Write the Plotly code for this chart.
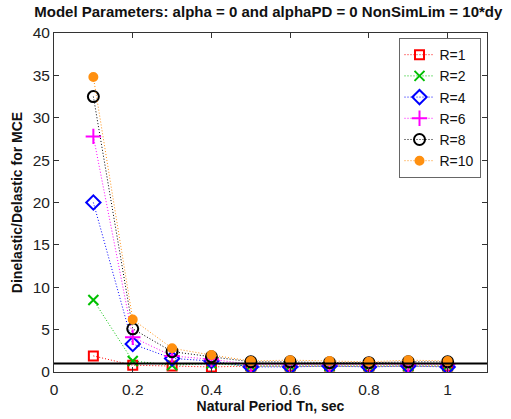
import plotly.graph_objects as go

periods = [0.1, 0.2, 0.3, 0.4, 0.5, 0.6, 0.7, 0.8, 0.9, 1.0]
r1 = [1.9, 0.8, 0.7, 0.6, 0.7, 0.7, 0.7, 0.7, 0.7, 0.7]
r2 = [8.5, 1.3, 0.8, 1.0, 0.7, 0.7, 0.7, 0.7, 0.7, 0.7]
r4 = [20.0, 3.3, 1.6, 1.3, 0.6, 0.6, 0.7, 0.6, 0.7, 0.6]
r6 = [27.8, 4.1, 1.9, 1.5, 0.9, 0.9, 0.9, 0.9, 0.9, 0.9]
r8 = [32.5, 5.1, 2.4, 1.8, 1.2, 1.2, 1.1, 1.1, 1.2, 1.2]
r10 = [34.8, 6.2, 2.8, 2.0, 1.3, 1.4, 1.3, 1.2, 1.4, 1.3]
names = ["R=1", "R=2", "R=4", "R=6", "R=8", "R=10"]
colors = ["#ff0000", "#00c000", "#0000ff", "#ff00ff", "#000000", "#ff9010"]
symbols = ["square-open", "x-thin", "diamond-open", "cross-thin", "circle-open", "circle"]
sizes = [9, 10, 11, 11, 11, 8]
series = [r1, r2, r4, r6, r8, r10]

fig = go.Figure()
for name, vals, c, s, sz in zip(names, series, colors, symbols, sizes):
    fig.add_trace(go.Scatter(
        x=periods, y=vals, name=name, mode="lines+markers",
        line=dict(color=c, width=1, dash="1px,2px"),
        marker=dict(symbol=s, size=sz, color=c, line=dict(color=c, width=2)),
    ))

fig.add_shape(type="line", xref="x", yref="y", x0=0, x1=1.1, y0=1, y1=1,
              line=dict(color="black", width=2))

axis_common = dict(showline=True, linecolor="#333", linewidth=1, mirror="ticks",
                   ticks="inside", ticklen=5, tickcolor="#333", showgrid=False,
                   zeroline=False, tickfont=dict(family="Arial, Liberation Sans", size=15.5, color="#222"))
fig.update_xaxes(range=[0, 1.1], tickvals=[0, 0.2, 0.4, 0.6, 0.8, 1],
                 ticktext=["0", "0.2", "0.4", "0.6", "0.8", "1"], ticklabelstandoff=3,
                 title=dict(text="<b>Natural Period Tn, sec</b>", standoff=0,
                            font=dict(family="Arial, Liberation Sans", size=14, color="#111")),
                 **axis_common)
fig.update_yaxes(range=[0, 40], tickvals=[0, 5, 10, 15, 20, 25, 30, 35, 40],
                 title=dict(text="<b>Dinelastic/Delastic for MCE</b>", standoff=6,
                            font=dict(family="Arial, Liberation Sans", size=14, color="#111")),
                 **axis_common)

fig.update_layout(
    width=511, height=419,
    margin=dict(l=54, r=24, t=33, b=43),
    paper_bgcolor="white", plot_bgcolor="white",
    title=dict(text="<b>Model Parameters: alpha = 0 and alphaPD = 0 NonSimLim = 10*dy</b>",
               x=0.525, xanchor="center", y=0.985, yanchor="top",
               font=dict(family="Arial, Liberation Sans", size=15, color="#111")),
    legend=dict(x=0.985, y=0.985, xanchor="right", yanchor="top",
                bordercolor="#666", borderwidth=1, bgcolor="white",
                font=dict(family="Arial, Liberation Sans", size=14, color="#111"),
                tracegroupgap=0, itemwidth=30),
    showlegend=True,
)

fig.write_html("out.html")
